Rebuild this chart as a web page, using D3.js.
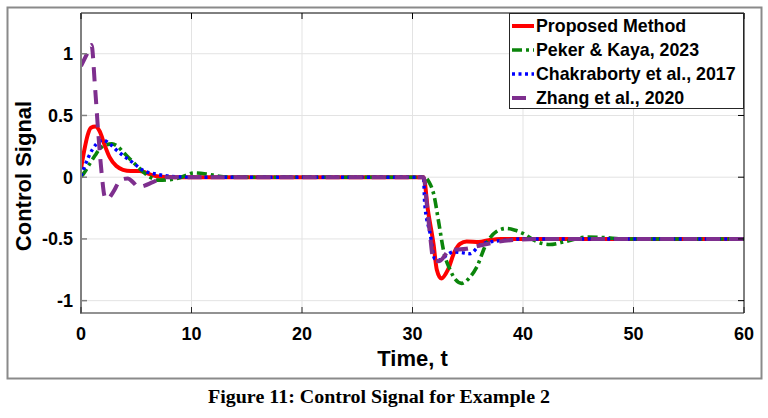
<!DOCTYPE html>
<html>
<head>
<meta charset="utf-8">
<script src="https://cdn.jsdelivr.net/npm/d3@7"></script>
<style>
body { margin:0; background:#fff; }
svg { display:block; }
</style>
</head>
<body>
<svg id="basicSVG" width="768" height="418"></svg>
<script>
// series: time, value
var redT = [0, 0.3, 0.6, 0.9, 1.3, 1.7, 2.1, 2.6, 3.2, 3.8, 4.5, 5.3, 5.9, 6.5, 7.2, 8.5, 31.0, 31.4, 31.9, 32.2, 32.6, 33.2, 33.8, 34.3, 34.9, 36.0, 36.9, 38.0, 39.0, 60];
var redV = [0.07, 0.22, 0.34, 0.4, 0.41, 0.37, 0.27, 0.16, 0.09, 0.06, 0.05, 0.05, 0.035, 0.015, 0.004, 0, 0, -0.27, -0.54, -0.75, -0.82, -0.75, -0.605, -0.54, -0.52, -0.525, -0.51, -0.5, -0.5, -0.5];

var greenT = [0, 0.4, 0.8, 1.3, 1.7, 2.2, 2.8, 3.3, 3.8, 4.4, 5.0, 5.6, 6.2, 7.1, 8.0, 9.0, 9.6, 10.2, 11.4, 12.5, 14, 31.1, 31.5, 31.9, 32.4, 32.8, 33.4, 33.9, 34.45, 35.1, 35.8, 36.7, 37.6, 38.5, 39.3, 40.0, 41.2, 42.4, 43.9, 45.8, 47.5, 49, 60];
var greenV = [0, 0.05, 0.11, 0.18, 0.23, 0.26, 0.27, 0.25, 0.205, 0.15, 0.097, 0.045, 0.003, -0.024, -0.02, -0.003, 0.02, 0.035, 0.025, 0.008, 0, 0, -0.04, -0.13, -0.38, -0.59, -0.75, -0.83, -0.86, -0.82, -0.73, -0.535, -0.44, -0.415, -0.43, -0.455, -0.52, -0.545, -0.52, -0.485, -0.49, -0.5, -0.5];

var blueT = [0, 0.3, 0.66, 1.0, 1.4, 2.0, 2.6, 3.2, 3.9, 4.6, 5.6, 6.85, 8.1, 10, 31.0, 31.1, 31.6, 32.0, 32.5, 33.1, 33.7, 34.4, 35.2, 36.1, 37.0, 38.5, 40, 60];
var blueV = [0.01, 0.08, 0.16, 0.22, 0.27, 0.3, 0.27, 0.22, 0.17, 0.125, 0.057, 0.024, 0.008, 0, 0, -0.21, -0.46, -0.66, -0.67, -0.63, -0.605, -0.61, -0.62, -0.55, -0.525, -0.51, -0.5, -0.5];

var purpleT = [0, 0.5, 0.95, 1.27, 1.57, 1.87, 2.15, 2.4, 2.7, 3.05, 3.4, 3.8, 4.25, 4.7, 5.2, 5.7, 6.5, 7.7, 9, 31.0, 31.3, 31.6, 31.9, 32.4, 33.4, 34.9, 35.8, 37.3, 39.7, 42, 60];
var purpleV = [0.9, 0.99, 1.07, 0.73, 0.35, 0.03, -0.16, -0.18, -0.15, -0.1, -0.04, -0.015, -0.01, -0.04, -0.08, -0.07, -0.04, 0, 0, 0, -0.22, -0.48, -0.67, -0.68, -0.59, -0.58, -0.56, -0.53, -0.505, -0.5, -0.5];

var seriesNames = ["Proposed Method", "Peker & Kaya, 2023", "Chakraborty et al., 2017", "Zhang et al., 2020"];
var xTicks = [0, 10, 20, 30, 40, 50, 60];
var yTicks = [-1, -0.5, 0, 0.5, 1];
var yTickLabels = ["-1", "-0.5", "0", "0.5", "1"];

var svg = d3.select("#basicSVG");
var L = 81, R = 744, T = 13, B = 313;
var x = d3.scaleLinear().domain([0, 60]).range([L, R]);
var y = d3.scaleLinear().domain([-1.1, 1.33]).range([B, T]);

// outer figure frame
svg.append("rect").attr("x", 7.5).attr("y", 7.5).attr("width", 754).attr("height", 371)
	.attr("fill", "#fff").attr("stroke", "#8a8a8a").attr("stroke-width", 2);

svg.append("rect").attr("x", L).attr("y", T).attr("width", R - L).attr("height", B - T).attr("fill", "#fff");

// grid
svg.append("g").selectAll("line").data(xTicks.slice(1, -1)).enter().append("line")
	.attr("x1", function(d){ return x(d); }).attr("x2", function(d){ return x(d); })
	.attr("y1", T).attr("y2", B).attr("stroke", "#e3e3e3").attr("stroke-width", 1);
svg.append("g").selectAll("line").data(yTicks).enter().append("line")
	.attr("x1", L).attr("x2", R)
	.attr("y1", function(d){ return y(d); }).attr("y2", function(d){ return y(d); })
	.attr("stroke", "#e3e3e3").attr("stroke-width", 1);

svg.append("defs").append("clipPath").attr("id", "plotClip")
	.append("rect").attr("x", L).attr("y", T).attr("width", R - L).attr("height", B - T);

var line = d3.line()
	.x(function(d){ return x(d[0]); })
	.y(function(d){ return y(d[1]); })
	.curve(d3.curveMonotoneX);

function zipSeries(t, v) { return t.map(function(d, i){ return [d, v[i]]; }); }

var styles = [
	{ color: "#ff0000", width: 4, dash: null },
	{ color: "#0b850b", width: 3.6, dash: "10,4,3,4" },
	{ color: "#0000ff", width: 3.4, dash: "3,3.5" },
	{ color: "#7e2f8e", width: 4, dash: "14,9" }
];
var allSeries = [zipSeries(redT, redV), zipSeries(greenT, greenV), zipSeries(blueT, blueV), zipSeries(purpleT, purpleV)];

var plotG = svg.append("g").attr("clip-path", "url(#plotClip)");
allSeries.forEach(function(s, i) {
	plotG.append("path").datum(s).attr("d", line)
		.attr("fill", "none")
		.attr("stroke", styles[i].color)
		.attr("stroke-width", styles[i].width)
		.attr("stroke-dasharray", styles[i].dash)
		.attr("stroke-linejoin", "round");
});

// axes box
svg.append("line").attr("x1", L).attr("x2", R).attr("y1", T).attr("y2", T).attr("stroke", "#000").attr("stroke-width", 1);
svg.append("line").attr("x1", R).attr("x2", R).attr("y1", T).attr("y2", B).attr("stroke", "#000").attr("stroke-width", 1);
svg.append("line").attr("x1", L).attr("x2", R).attr("y1", B).attr("y2", B).attr("stroke", "#262626").attr("stroke-width", 1.2);
svg.append("line").attr("x1", L).attr("x2", L).attr("y1", T).attr("y2", B + 1).attr("stroke", "#808080").attr("stroke-width", 2);

// ticks
var tickG = svg.append("g");
xTicks.forEach(function(d) {
	tickG.append("line").attr("x1", x(d)).attr("x2", x(d)).attr("y1", B).attr("y2", B - 6).attr("stroke", "#262626");
	tickG.append("line").attr("x1", x(d)).attr("x2", x(d)).attr("y1", T).attr("y2", T + 6).attr("stroke", "#000");
});
yTicks.forEach(function(d) {
	tickG.append("line").attr("x1", L).attr("x2", L + 6).attr("y1", y(d)).attr("y2", y(d)).attr("stroke", "#808080").attr("stroke-width", 1.5);
	tickG.append("line").attr("x1", R).attr("x2", R - 6).attr("y1", y(d)).attr("y2", y(d)).attr("stroke", "#000");
});

var font = "'Liberation Sans', Arial, sans-serif";
svg.append("g").selectAll("text").data(xTicks).enter().append("text")
	.attr("x", function(d){ return x(d); }).attr("y", 340)
	.attr("text-anchor", "middle").attr("font-family", font).attr("font-weight", "bold")
	.attr("font-size", 18).text(function(d){ return d; });
svg.append("g").selectAll("text").data(yTicks).enter().append("text")
	.attr("x", 73).attr("y", function(d){ return y(d) + 6.5; })
	.attr("text-anchor", "end").attr("font-family", font).attr("font-weight", "bold")
	.attr("font-size", 18).text(function(d, i){ return yTickLabels[i]; });

svg.append("text").attr("x", (L + R) / 2).attr("y", 366)
	.attr("text-anchor", "middle").attr("font-family", font).attr("font-weight", "bold")
	.attr("font-size", 22).text("Time, t");
svg.append("text").attr("transform", "translate(31," + ((T + B) / 2 + 13) + ") rotate(-90)")
	.attr("text-anchor", "middle").attr("font-family", font).attr("font-weight", "bold")
	.attr("font-size", 22).text("Control Signal");

// legend
var legG = svg.append("g");
legG.append("rect").attr("x", 509.5).attr("y", 13.5).attr("width", 234).attr("height", 95)
	.attr("fill", "#fff").attr("stroke", "#262626").attr("stroke-width", 1);
seriesNames.forEach(function(name, i) {
	var ly = 26 + i * 24;
	legG.append("line").attr("x1", 512).attr("x2", 534).attr("y1", ly).attr("y2", ly)
		.attr("stroke", styles[i].color).attr("stroke-width", styles[i].width)
		.attr("stroke-dasharray", styles[i].dash);
	legG.append("text").attr("x", 536).attr("y", ly + 6)
		.attr("font-family", font).attr("font-weight", "bold").attr("font-size", 17.8)
		.text(name);
});

// caption
svg.append("text").attr("x", 379).attr("y", 403)
	.attr("text-anchor", "middle").attr("font-family", "'Liberation Serif', 'Times New Roman', serif")
	.attr("font-weight", "bold").attr("font-size", 18)
	.attr("textLength", 342).attr("lengthAdjust", "spacingAndGlyphs")
	.text("Figure 11: Control Signal for Example 2");
</script>
</body>
</html>
